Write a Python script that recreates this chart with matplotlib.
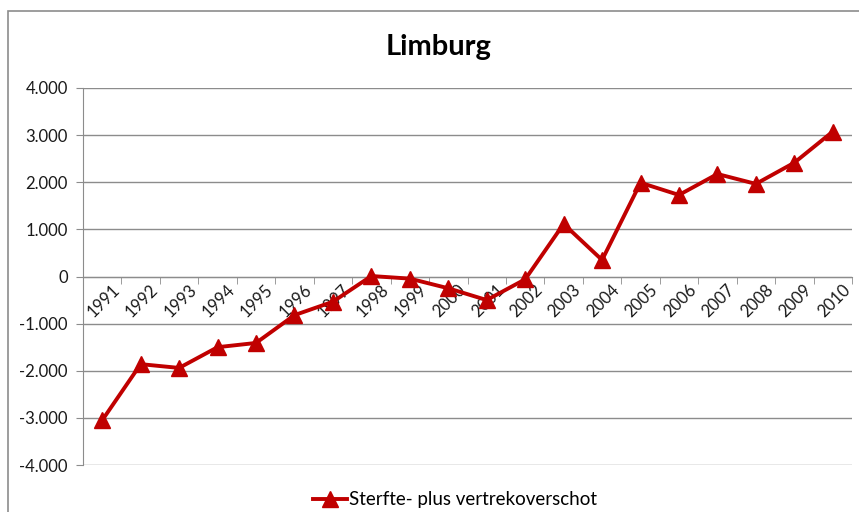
import matplotlib
matplotlib.use("Agg")
import matplotlib.pyplot as plt
from matplotlib.patches import Rectangle
from matplotlib.ticker import FixedLocator, FuncFormatter
import matplotlib.transforms as mtransforms

years = [str(y) for y in range(1991, 2011)]
values = [-3050, -1860, -1940, -1500, -1410, -820, -535, 10, -45, -250,
          -500, -60, 1115, 350, 1990, 1730, 2175, 1965, 2415, 3075]
series_name = "Sterfte- plus vertrekoverschot"
title = "Limburg"

plt.rcParams['font.family'] = ['Lato', 'DejaVu Sans']

W, H = 859, 512
fig = plt.figure(figsize=(W / 100, H / 100), dpi=100)

# outer chart border (cropped at right/bottom)
fig.patches.append(Rectangle((8 / W, -0.1), 1.2, 1 - 11 / H + 0.1,
                             transform=fig.transFigure, fill=False,
                             edgecolor='#8c8c8c', linewidth=1.2))

left, right, top, bottom = 83, 852, 88, 465
ax = fig.add_axes([left / W, 1 - bottom / H, (right - left) / W, (bottom - top) / H])

x = list(range(len(years)))
ax.plot(x, values, color='#c00000', linewidth=2.8, marker='^', markersize=11,
        markerfacecolor='#c00000', markeredgecolor='#c00000', label=series_name, zorder=3)

ax.set_xlim(-0.5, len(years) - 0.5)
ax.set_ylim(-4000, 4000)
ax.set_yticks(range(-4000, 4001, 1000))
ax.yaxis.set_major_formatter(FuncFormatter(lambda v, p: f"{int(v):,}".replace(",", ".")))
ax.grid(axis='y', color='#8c8c8c', linewidth=1.0)
ax.set_axisbelow(True)

for s in ['top', 'right']:
    ax.spines[s].set_visible(False)
ax.spines['left'].set_color('#8c8c8c')
ax.spines['bottom'].set_position(('data', 0))
ax.spines['bottom'].set_color('#8c8c8c')

ax.tick_params(axis='y', length=5, color='#8c8c8c', labelsize=12, pad=6, labelcolor='#1a1a1a')

ax.set_xticks(x)
ax.set_xticklabels(years, rotation=45, ha='right', va='top', rotation_mode='anchor')
ax.tick_params(axis='x', which='major', length=0, labelsize=12, pad=4, labelcolor='#1a1a1a')
offset = mtransforms.ScaledTranslation(9 / 100, 0, fig.dpi_scale_trans)
for lab in ax.get_xticklabels():
    lab.set_transform(lab.get_transform() + offset)
ax.xaxis.set_minor_locator(FixedLocator([i - 0.5 for i in range(len(years) + 1)]))
ax.tick_params(axis='x', which='minor', length=5, color='#8c8c8c', direction='out')

fig.text(439 / W, 1 - 47 / H, title, ha='center', va='center',
         fontsize=21, fontweight='bold', color='#000000')

fig.legend(loc='center', bbox_to_anchor=(455 / W, 1 - 500 / H), frameon=False,
           fontsize=13.5, handlelength=1.8, handletextpad=0.1)

fig.savefig("out.png", dpi=100)
